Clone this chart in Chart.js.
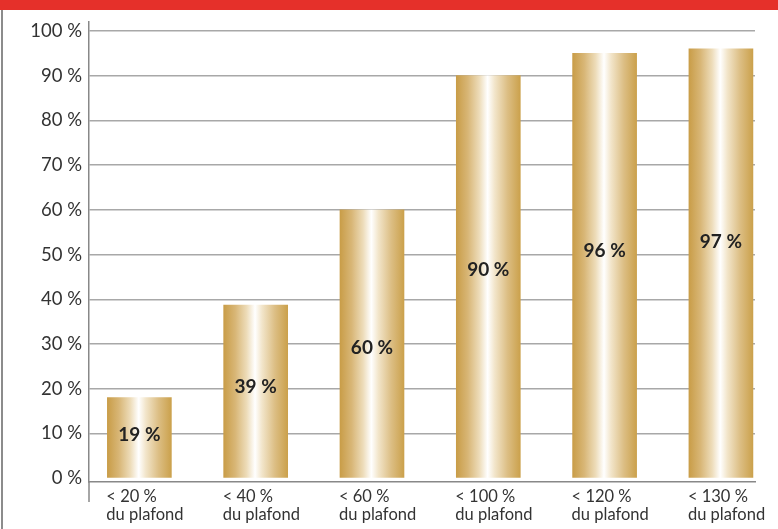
<!DOCTYPE html>
<html>
<head>
<meta charset="utf-8">
<script src="https://cdn.jsdelivr.net/npm/chart.js@4.4.1/dist/chart.umd.min.js"></script>
<style>
  html, body { margin: 0; padding: 0; background: #ffffff; overflow: hidden; }
  #wrap { position: relative; width: 778px; height: 529px; }
  #band { position: absolute; left: 0; top: 0; width: 778px; height: 10px; background: #e5302a; }
  #edge { position: absolute; left: 1px; top: 10px; width: 2px; height: 519px; background: #8c8c8c; }
  canvas { position: absolute; left: 0; top: 0; }
</style>
</head>
<body>
<div id="wrap">
  <canvas id="c" width="778" height="529"></canvas>
  <div id="band"></div>
  <div id="edge"></div>
</div>
<script>
// ---- data ----
const categories = [
  ["< 20 %", "du plafond"],
  ["< 40 %", "du plafond"],
  ["< 60 %", "du plafond"],
  ["< 100 %", "du plafond"],
  ["< 120 %", "du plafond"],
  ["< 130 %", "du plafond"]
];
const values = [18, 38.7, 60, 90, 95, 96];
const valueLabels = ["19 %", "39 %", "60 %", "90 %", "96 %", "97 %"];
const labelLevels = [9.6, 20.4, 29.1, 46.5, 50.8, 52.8];
const yTicks = [0, 10, 20, 30, 40, 50, 60, 70, 80, 90, 100];
const yTickLabels = ["0 %", "10 %", "20 %", "30 %", "40 %", "50 %", "60 %", "70 %", "80 %", "90 %", "100 %"];

const BAR_W = 64;

function goldGradient(context) {
  const chart = context.chart;
  const xs = chart.scales.x;
  if (!xs || !chart.chartArea) return '#cfa452';
  const cx = xs.getPixelForValue(context.dataIndex);
  const g = chart.ctx.createLinearGradient(cx - BAR_W / 2, 0, cx + BAR_W / 2, 0);
  g.addColorStop(0.00, '#c99d48');
  g.addColorStop(0.18, '#d8b676');
  g.addColorStop(0.36, '#eddcb9');
  g.addColorStop(0.49, '#ffffff');
  g.addColorStop(0.60, '#f2e5ca');
  g.addColorStop(0.80, '#dcbe84');
  g.addColorStop(1.00, '#cba14c');
  return g;
}

const axisExtension = {
  id: 'axisExtension',
  afterDraw(chart) {
    const { ctx, chartArea } = chart;
    ctx.save();
    ctx.strokeStyle = '#888888';
    ctx.lineWidth = 1.5;
    ctx.beginPath();
    ctx.moveTo(chartArea.left, chartArea.bottom);
    ctx.lineTo(chartArea.left, chartArea.bottom + 20);
    ctx.stroke();
    ctx.restore();
  }
};

const valueLabelPlugin = {
  id: 'valueLabels',
  afterDatasetsDraw(chart) {
    const { ctx } = chart;
    const xs = chart.scales.x, ys = chart.scales.y;
    ctx.save();
    ctx.font = 'bold 19px Lato';
    ctx.fillStyle = '#222222';
    ctx.textAlign = 'center';
    ctx.textBaseline = 'middle';
    valueLabels.forEach((t, i) => {
      ctx.fillText(t, xs.getPixelForValue(i), ys.getPixelForValue(labelLevels[i]));
    });
    ctx.restore();
  }
};

new Chart(document.getElementById('c'), {
  type: 'bar',
  data: {
    datasets: [{
      data: values.map((v, i) => ({ x: i, y: v })),
      backgroundColor: goldGradient,
      borderWidth: 0,
      barThickness: BAR_W
    }]
  },
  options: {
    responsive: false,
    animation: false,
    devicePixelRatio: 1,
    layout: { padding: { top: 22, right: 23, left: 0, bottom: 0 } },
    plugins: { legend: { display: false }, tooltip: { enabled: false } },
    scales: {
      x: {
        type: 'linear',
        offset: false,
        min: -0.433,
        max: 5.293,
        afterBuildTicks: s => { s.ticks = categories.map((c, i) => ({ value: i })); },
        afterFit: s => { s.height = 47; s.paddingLeft = 0; s.paddingRight = 0; },
        grid: { display: false, drawTicks: false, offset: false },
        border: { display: true, color: '#888888', width: 1.5 },
        ticks: {
          autoSkip: false,
          maxRotation: 0,
          align: 'start',
          labelOffset: -33,
          padding: 6,
          color: '#333333',
          font: { family: 'Lato', size: 16.5, lineHeight: 1.07 },
          callback: v => categories[v]
        }
      },
      y: {
        min: -0.85,
        max: 102,
        afterBuildTicks: s => { s.ticks = yTicks.map(v => ({ value: v })); },
        afterFit: s => { s.width = 89; s.paddingTop = 0; s.paddingBottom = 0; },
        grid: {
          drawTicks: false,
          color: c => (c.tick && c.tick.value === 0) ? 'rgba(0,0,0,0)' : '#a8a8a8',
          lineWidth: 1.4
        },
        border: { display: true, color: '#888888', width: 1.5 },
        ticks: {
          padding: 7,
          color: '#333333',
          font: { family: 'Lato', size: 18.5 },
          callback: (v, i) => yTickLabels[i]
        }
      }
    }
  },
  plugins: [axisExtension, valueLabelPlugin]
});
</script>
</body>
</html>
